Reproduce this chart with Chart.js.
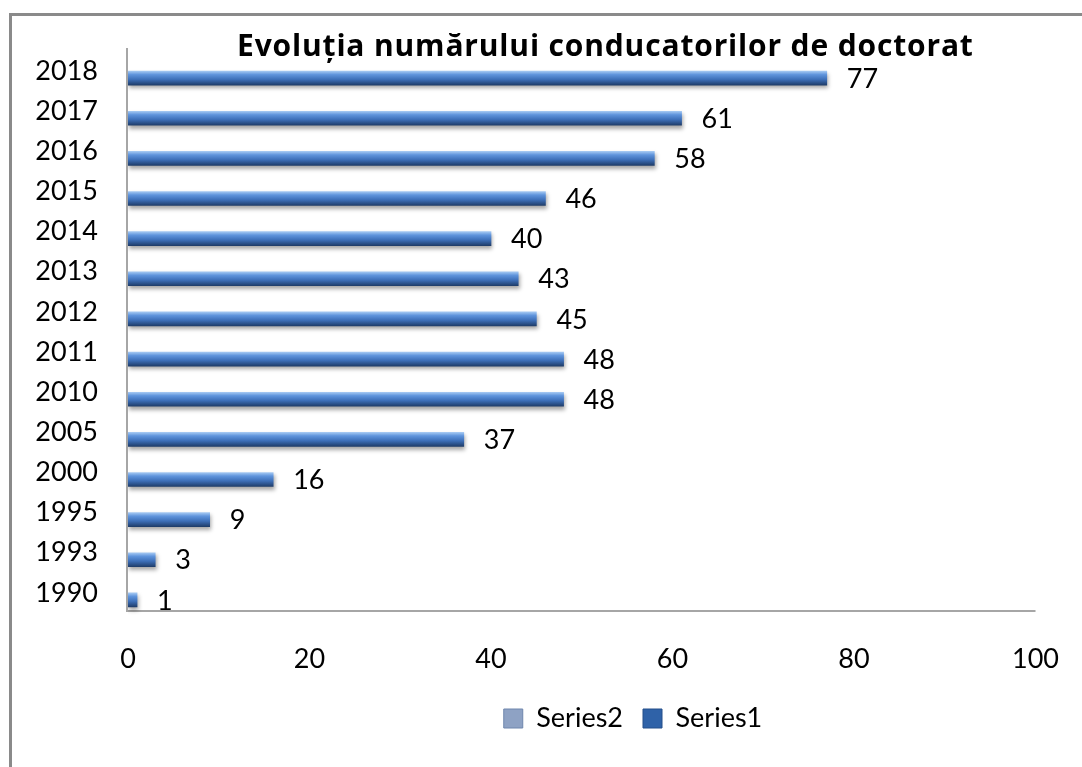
<!DOCTYPE html>
<html>
<head>
<meta charset="utf-8">
<script src="https://cdn.jsdelivr.net/npm/chart.js@4.4.1/dist/chart.umd.min.js"></script>
<style>
html, body { margin: 0; padding: 0; background: #fff; }
#wrap { width: 1082px; height: 767px; }
</style>
</head>
<body>
<div id="wrap"><canvas id="chart" width="1082" height="767"></canvas></div>
<script>
// Date
var years = ['1990', '1993', '1995', '2000', '2005', '2010', '2011', '2012', '2013', '2014', '2015', '2016', '2017', '2018'];
var series1 = [1, 3, 9, 16, 37, 48, 48, 45, 43, 40, 46, 58, 61, 77];
var series2 = [];
var xTicks = [0, 20, 40, 60, 80, 100];
var titleText = 'Evoluția numărului conducatorilor de doctorat';

var font = 'Lato';

// gradient vertical pe fiecare bara (efect 3D)
function barGradient(ctx) {
	var chart = ctx.chart;
	var y = chart.scales.y;
	if (!y || ctx.type !== 'data') return '#3a6cb5';
	var yc = y.getPixelForValue(ctx.dataIndex);
	var g = chart.ctx.createLinearGradient(0, yc - 7, 0, yc + 7);
	g.addColorStop(0, '#a4c8f2');
	g.addColorStop(0.25, '#5f94dc');
	g.addColorStop(0.6, '#3d6fb8');
	g.addColorStop(1, '#1f3d6a');
	return g;
}

// cadru gri
var framePlugin = {
	id: 'frame',
	beforeDraw: function (chart) {
		var c = chart.ctx;
		c.save();
		c.fillStyle = '#fff';
		c.fillRect(0, 0, chart.width, chart.height);
		c.fillStyle = '#8a8a8a';
		c.fillRect(9, 13, 3, chart.height - 13);
		c.fillRect(9, 13, chart.width - 9, 3);
		c.restore();
	}
};

// axele (deplasate putin in sus, ca in Excel 3D)
var axesPlugin = {
	id: 'axesLines',
	beforeDatasetsDraw: function (chart) {
		var a = chart.chartArea;
		var c = chart.ctx;
		c.save();
		c.strokeStyle = '#a6a6a6';
		c.lineWidth = 2;
		c.beginPath();
		c.moveTo(a.left - 1, a.top - 10);
		c.lineTo(a.left - 1, a.bottom - 9);
		c.lineTo(a.right, a.bottom - 9);
		c.stroke();
		c.restore();
	}
};

var shadowPlugin = {
	id: 'barShadow',
	beforeDatasetDraw: function (chart) {
		var c = chart.ctx;
		c.save();
		c.shadowColor = 'rgba(0,0,0,0.35)';
		c.shadowBlur = 4;
		c.shadowOffsetY = 3;
		c.shadowOffsetX = 1;
	},
	afterDatasetDraw: function (chart) {
		chart.ctx.restore();
	}
};

// etichete cu valori + titlul
var labelsPlugin = {
	id: 'valueLabels',
	afterDatasetsDraw: function (chart) {
		var c = chart.ctx;
		var meta = chart.getDatasetMeta(0);
		c.save();
		c.font = '27px ' + font;
		c.fillStyle = '#000';
		c.textAlign = 'left';
		c.textBaseline = 'middle';
		meta.data.forEach(function (el, i) {
			c.fillText(String(series1[i]), el.x + 20, el.y + 1);
		});
		// titlul: latimea ca in original (~736px)
		c.font = 'bold 30px "Open Sans"';
		var w = c.measureText(titleText).width;
		var sp = (736 - w) / (titleText.length - 1);
		if (sp > 0 && 'letterSpacing' in c) c.letterSpacing = sp.toFixed(2) + 'px';
		c.textAlign = 'left';
		c.fillText(titleText, 237, 47);
		c.restore();
	}
};

// mutam legenda spre dreapta
var legendShift = {
	id: 'legendShift',
	afterLayout: function (chart) {
		var lg = chart.legend;
		var d = 633 - (lg.left + lg.right) / 2;
		lg.left += d;
		lg.right += d;
		lg.top -= 5;
		lg.bottom -= 5;
	}
};

var chart = new Chart(document.getElementById('chart'), {
	type: 'bar',
	data: {
		labels: years,
		datasets: [{
			label: 'Series1',
			data: series1,
			backgroundColor: barGradient,
			borderWidth: 0,
			barThickness: 14,
			grouped: false
		}, {
			label: 'Series2',
			data: series2,
			backgroundColor: '#8ea2c4',
			barThickness: 14,
			grouped: false
		}]
	},
	options: {
		indexAxis: 'y',
		responsive: false,
		animation: false,
		layout: { padding: { top: 58, left: 0, right: 46, bottom: 20 } },
		scales: {
			x: {
				min: 0, max: 100,
				afterBuildTicks: function (s) { s.ticks = xTicks.map(function (v) { return { value: v }; }); },
				afterFit: function (s) { s.height = 70; },
				grid: { display: false, drawTicks: false },
				border: { display: false },
				ticks: { padding: 23, color: '#000', font: { family: font, size: 27 } }
			},
			y: {
				reverse: true,
				afterFit: function (s) { s.width = 128; },
				grid: { display: false, drawTicks: false },
				border: { display: false },
				ticks: { padding: 30, labelOffset: -7, color: '#000', font: { family: font, size: 27 } }
			}
		},
		plugins: {
			title: { display: false },
			tooltip: { enabled: false },
			legend: {
				position: 'bottom',
				labels: {
					boxWidth: 19,
					boxHeight: 19,
					padding: 20,
					color: '#000',
					font: { family: font, size: 27 },
					generateLabels: function () {
						return [
							{ text: 'Series2', fillStyle: '#8ea2c4', strokeStyle: '#6f86ad', lineWidth: 1, datasetIndex: 1 },
							{ text: 'Series1', fillStyle: '#2f62a8', strokeStyle: '#244f8a', lineWidth: 1, datasetIndex: 0 }
						];
					}
				}
			}
		}
	},
	plugins: [framePlugin, axesPlugin, shadowPlugin, labelsPlugin, legendShift]
});
</script>
</body>
</html>
